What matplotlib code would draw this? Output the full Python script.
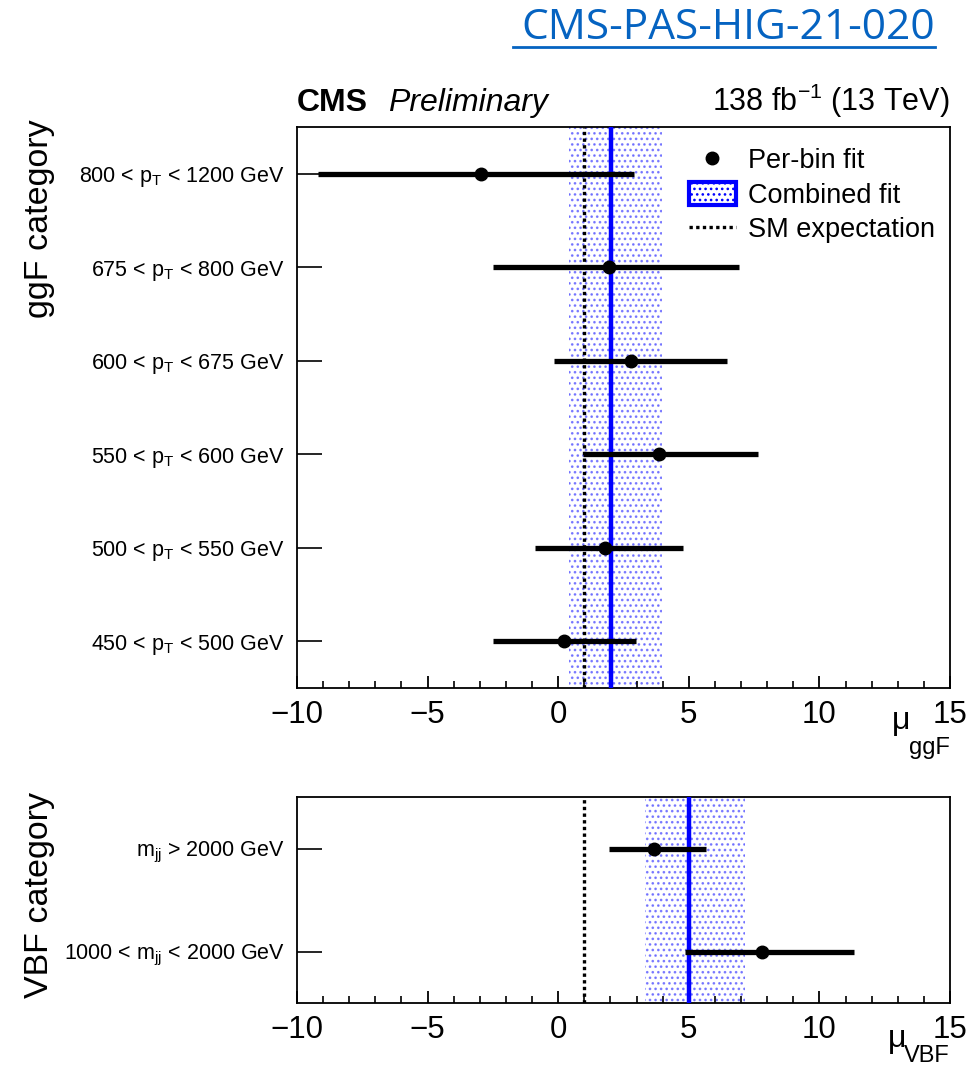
import numpy as np
import matplotlib.pyplot as plt
from matplotlib.lines import Line2D
from matplotlib.patches import Patch
from matplotlib.ticker import MultipleLocator

plt.rcParams['font.family'] = ['Liberation Sans', 'DejaVu Sans']
plt.rcParams['mathtext.fontset'] = 'custom'
plt.rcParams['mathtext.rm'] = 'Liberation Sans'
plt.rcParams['mathtext.it'] = 'Liberation Sans:italic'
plt.rcParams['hatch.linewidth'] = 1.1

# ggF categories (bottom to top)
ggf_labels = [r'450 < p$_{\rm T}$ < 500 GeV', r'500 < p$_{\rm T}$ < 550 GeV',
              r'550 < p$_{\rm T}$ < 600 GeV', r'600 < p$_{\rm T}$ < 675 GeV',
              r'675 < p$_{\rm T}$ < 800 GeV', r'800 < p$_{\rm T}$ < 1200 GeV']
ggf_mu = [0.23, 1.80, 3.87, 2.79, 1.95, -2.95]
ggf_lo = [-2.49, -0.88, 0.96, -0.16, -2.49, -9.19]
ggf_hi = [2.99, 4.79, 7.66, 6.47, 6.93, 2.90]
ggf_comb = 2.03
ggf_comb_band = (0.42, 3.98)

# VBF categories (bottom to top)
vbf_labels = [r'1000 < m$_{\rm jj}$ < 2000 GeV', r'm$_{\rm jj}$ > 2000 GeV']
vbf_mu = [7.81, 3.68]
vbf_lo = [4.86, 1.95]
vbf_hi = [11.33, 5.67]
vbf_comb = 5.02
vbf_comb_band = (3.33, 7.16)

sm_value = 1.0

fig = plt.figure(figsize=(9.7, 10.66), dpi=100)
ax1 = fig.add_axes([0.3062, 0.3546, 0.6732, 0.5263])
ax2 = fig.add_axes([0.3062, 0.0591, 0.6732, 0.1932])


def draw_panel(ax, labels, mu, lo, hi, comb, band):
    n = len(labels)
    y = np.arange(n)
    mu = np.array(mu)
    xerr = [mu - np.array(lo), np.array(hi) - mu]
    ax.axvspan(band[0], band[1], facecolor='none', edgecolor=(0.35, 0.35, 1.0, 0.75),
               hatch='...', linewidth=0, zorder=1)
    ax.axvline(sm_value, color='black', ls=(0, (1, 1)), lw=2.4, zorder=2)
    ax.axvline(comb, color='#0000ff', lw=3.2, zorder=3)
    ax.errorbar(mu, y, xerr=xerr, fmt='o', color='black', ms=9,
                elinewidth=3.8, capsize=0, zorder=4)
    ax.set_xlim(-10, 15)
    ax.set_ylim(-0.5, n - 0.5)
    ax.set_yticks(y)
    ax.set_yticklabels(labels, fontsize=15.5)
    ax.xaxis.set_major_locator(MultipleLocator(5))
    ax.xaxis.set_minor_locator(MultipleLocator(1))
    ax.tick_params(axis='x', which='major', direction='in', length=9, width=1.3,
                   labelsize=22.5, pad=9)
    ax.tick_params(axis='x', which='minor', direction='in', length=5, width=1.2)
    ax.tick_params(axis='y', which='major', direction='in', length=18, width=1.2,
                   pad=9)
    for s in ax.spines.values():
        s.set_linewidth(1.3)


draw_panel(ax1, ggf_labels, ggf_mu, ggf_lo, ggf_hi, ggf_comb, ggf_comb_band)
draw_panel(ax2, vbf_labels, vbf_mu, vbf_lo, vbf_hi, vbf_comb, vbf_comb_band)

ax1.set_ylabel('ggF category', fontsize=24.5, loc='top', labelpad=0)
ax2.set_ylabel('VBF category', fontsize=24.5, loc='top', labelpad=0)
ax1.yaxis.set_label_coords(-0.37, 1.014)
ax2.yaxis.set_label_coords(-0.37, 1.024)

# x-axis titles, ROOT style: mu with a low-set subscript, right aligned
ax1.text(0.939, -0.073, 'μ', transform=ax1.transAxes, fontsize=23,
         ha='right', va='baseline')
ax1.text(1.0, -0.087, 'ggF', transform=ax1.transAxes, fontsize=17,
         ha='right', va='top')
ax2.text(0.933, -0.2136, 'μ', transform=ax2.transAxes, fontsize=23,
         ha='right', va='baseline')
ax2.text(1.0, -0.204, 'VBF', transform=ax2.transAxes, fontsize=17,
         ha='right', va='top')

ax1.text(0.0, 1.029, 'CMS', transform=ax1.transAxes, fontsize=23,
         fontweight='bold', ha='left', va='baseline')
ax1.text(0.139, 1.029, 'Preliminary', transform=ax1.transAxes, fontsize=23,
         style='italic', ha='left', va='baseline')
ax1.text(1.0, 1.029, r'138 fb$^{-1}$ (13 TeV)', transform=ax1.transAxes,
         fontsize=22, ha='right', va='baseline')

handles = [
    Line2D([], [], marker='o', color='black', ls='none', ms=9),
    Patch(facecolor='none', edgecolor='#0000ff', hatch='...', linewidth=3),
    Line2D([], [], color='black', ls=(0, (1, 1)), lw=2.4),
]
ax1.legend(handles, ['Per-bin fit', 'Combined fit', 'SM expectation'],
           loc='upper right', bbox_to_anchor=(1.0, 0.99), frameon=False,
           fontsize=19.5, handlelength=1.75, handleheight=0.9, labelspacing=0.3,
           handletextpad=0.45, borderaxespad=0.15)

fig.text(0.964, 0.974, 'CMS-PAS-HIG-21-020', fontsize=30.5, color='#0563C1',
         family='Open Sans', ha='right', va='center')
fig.add_artist(Line2D([0.529, 0.964], [0.956, 0.956], color='#0563C1', lw=2,
                      transform=fig.transFigure))

fig.savefig('out.png', dpi=100)
